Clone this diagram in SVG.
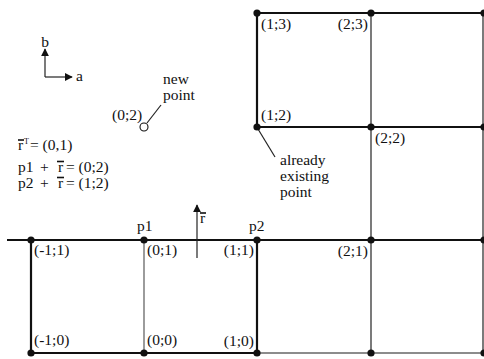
<svg xmlns="http://www.w3.org/2000/svg" width="484" height="359" viewBox="0 0 484 359">
<defs>
<style>
text{font-family:"Liberation Serif","Times New Roman",serif;font-size:15.5px;fill:#111}
.thick{stroke:#111;stroke-width:2.2;fill:none}
.thin{stroke:#222;stroke-width:1.2;fill:none}
.gray{stroke:#666;stroke-width:1.3;fill:none}
.dot{fill:#111}
.end{text-anchor:end}
.ov{stroke:#111;stroke-width:1.6}
</style>
<marker id="ah" viewBox="0 0 10 10" refX="9" refY="5" markerWidth="8" markerHeight="8" markerUnits="userSpaceOnUse" orient="auto"><path d="M0,0 L10,5 L0,10 Z" fill="#111"/></marker>
</defs>
<g id="connectors">
<line class="thick" x1="7" y1="240" x2="484" y2="240"/>
<line class="thick" x1="31" y1="353" x2="257" y2="353"/>
<line class="gray" x1="257" y1="353" x2="484" y2="353"/>
<line class="thick" x1="31" y1="240" x2="31" y2="353"/>
<line class="gray" x1="144" y1="240" x2="144" y2="353"/>
<line class="thick" x1="257" y1="240" x2="257" y2="353"/>
<line class="thick" x1="257" y1="13" x2="257" y2="127"/>
<line class="thin" x1="371" y1="13" x2="371" y2="353"/>
<line class="thin" x1="483" y1="13" x2="483" y2="353"/>
<line class="thick" x1="257" y1="13" x2="484" y2="13"/>
<line class="thick" x1="257" y1="127" x2="484" y2="127"/>
<line class="thin" x1="147" y1="123" x2="161" y2="105"/>
<line class="thin" x1="258" y1="129" x2="275" y2="157"/>
</g>
<g id="axes">
<line class="thin" x1="45" y1="77" x2="45" y2="49" marker-end="url(#ah)"/>
<line class="thin" x1="45" y1="77" x2="72" y2="77" marker-end="url(#ah)"/>
<text x="45" y="47" text-anchor="middle">b</text>
<text x="76" y="81">a</text>
</g>
<g id="vector-r">
<line class="thin" x1="197" y1="258" x2="197" y2="205" marker-end="url(#ah)"/>
<text x="200" y="223">r</text>
<line class="ov" x1="200" y1="213" x2="206" y2="213"/>
</g>
<g id="equations">
<text x="18" y="150">r</text>
<line class="ov" x1="18" y1="140" x2="24" y2="140"/>
<text x="24" y="144" style="font-size:8px">T</text>
<text x="30" y="150">= (0,1)</text>
<text x="18" y="172">p1</text>
<text x="40" y="172">+</text>
<text x="58" y="172">r</text>
<line class="ov" x1="57" y1="161.5" x2="64" y2="161.5"/>
<text x="66" y="172">= (0;2)</text>
<text x="18" y="188">p2</text>
<text x="40" y="188">+</text>
<text x="58" y="188">r</text>
<line class="ov" x1="57" y1="177.5" x2="64" y2="177.5"/>
<text x="66" y="188">= (1;2)</text>
</g>
<g id="new-point">
<circle cx="144" cy="127" r="4" fill="none" stroke="#111" stroke-width="1.1"/>
<text x="112" y="120">(0;2)</text>
<text x="163" y="84">new</text>
<text x="163" y="100">point</text>
</g>
<g id="existing-point-label">
<text x="280" y="165">already</text>
<text x="280" y="181">existing</text>
<text x="280" y="197">point</text>
</g>
<g id="node-m1-1"><circle class="dot" cx="31" cy="240" r="3.6"/><text x="34" y="255">(-1;1)</text></g>
<g id="node-0-1"><circle class="dot" cx="144" cy="240" r="3.6"/><text x="147" y="255">(0;1)</text><text x="137" y="231">p1</text></g>
<g id="node-1-1"><circle class="dot" cx="257" cy="240" r="3.6"/><text class="end" x="254" y="255">(1;1)</text><text x="249" y="231">p2</text></g>
<g id="node-2-1"><circle class="dot" cx="371" cy="240" r="3.6"/><text class="end" x="368" y="256">(2;1)</text></g>
<g id="node-3-1"><circle class="dot" cx="484" cy="240" r="3.6"/></g>
<g id="node-m1-0"><circle class="dot" cx="31" cy="353" r="3.6"/><text x="34" y="345">(-1;0)</text></g>
<g id="node-0-0"><circle class="dot" cx="144" cy="353" r="3.6"/><text x="147" y="345">(0;0)</text></g>
<g id="node-1-0"><circle class="dot" cx="257" cy="353" r="3.6"/><text class="end" x="254" y="346">(1;0)</text></g>
<g id="node-2-0"><circle class="dot" cx="371" cy="353" r="3.6"/></g>
<g id="node-3-0"><circle class="dot" cx="484" cy="353" r="3.6"/></g>
<g id="node-1-2"><circle class="dot" cx="257" cy="127" r="3.6"/><text x="261" y="120">(1;2)</text></g>
<g id="node-2-2"><circle class="dot" cx="371" cy="127" r="3.6"/><text x="375" y="143">(2;2)</text></g>
<g id="node-3-2"><circle class="dot" cx="484" cy="127" r="3.6"/></g>
<g id="node-1-3"><circle class="dot" cx="257" cy="13" r="3.6"/><text x="261" y="29">(1;3)</text></g>
<g id="node-2-3"><circle class="dot" cx="371" cy="13" r="3.6"/><text class="end" x="368" y="29">(2;3)</text></g>
<g id="node-3-3"><circle class="dot" cx="484" cy="13" r="3.6"/></g>
</svg>
